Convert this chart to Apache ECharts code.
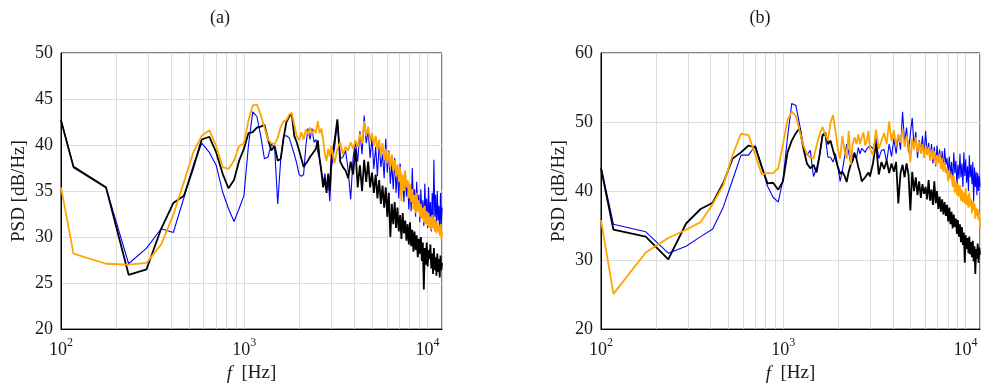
<!DOCTYPE html>
<html>
<head>
<meta charset="utf-8">
<title>PSD</title>
<script src="https://cdn.jsdelivr.net/npm/echarts@6/dist/echarts.min.js"></script>
<style>
  html, body { margin: 0; padding: 0; background: #fff; }
  #chart { width: 983px; height: 388px; }
</style>
</head>
<body>
<div id="chart"></div>
<script>
// frequency bins [Hz] (first point = left edge of the axis)
const freq = [100, 117, 176, 234, 293, 352, 410, 469, 527, 586, 645, 703, 762, 820, 879, 938, 996, 1055, 1113, 1172,
  1230, 1289, 1348, 1406, 1465, 1523, 1582, 1641, 1699, 1758, 1816, 1875, 1934, 1992, 2051, 2109, 2168, 2227, 2285, 2344,
  2402, 2461, 2520, 2578, 2637, 2695, 2754, 2813, 2871, 2930, 2988, 3105, 3223, 3340, 3457,
  3574, 3691, 3809, 3926, 4043, 4160, 4277, 4395, 4512, 4629, 4746, 4863, 4980, 5098, 5215, 5332, 5449, 5566, 5684, 5801,
  5918, 6035, 6152, 6270, 6387, 6504, 6621, 6738, 6856, 6973, 7090, 7207, 7324, 7441, 7559, 7676, 7793, 7910, 8027, 8145,
  8262, 8379, 8496, 8613, 8731, 8848, 8965, 9082, 9199, 9316, 9434, 9551, 9668, 9785, 9902, 10020, 10137, 10254, 10371, 10488,
  10605, 10723, 10840, 10957, 11074, 11191, 11309, 11426, 11543, 11660, 11777, 11895, 12012]

// panel (a)
const psdA_black = [42.7, 37.6, 35.4, 25.9, 26.5, 30.9, 33.7, 34.5, 37.5, 40.6, 40.9, 39.2, 36.9, 35.3, 36.2, 38.3, 39.6, 41.3, 41.4, 41.9,
  42.0, 42.2, 40.6, 39.4, 39.9, 38.3, 38.5, 40.8, 42.5, 43.1, 43.4, 41.0, 40.3, 39.4, 38.5, 37.6, 38.0, 38.3, 38.7, 39.0,
  38.9, 39.6, 40.5, 38.5, 37.1, 35.4, 36.4, 34.8, 36.9, 35.0, 38.5, 40.3, 42.8, 38.2, 37.6,
  37.2, 36.4, 38.2, 36.8, 39.6, 35.4, 37.8, 35.0, 38.4, 36.0, 38.2, 35.4, 37.0, 34.8, 36.8, 34.2, 36.2, 33.6, 35.6, 33.2,
  35.4, 32.2, 34.8, 30.0, 33.6, 31.4, 33.8, 31.0, 33.2, 30.6, 32.4, 29.8, 32.6, 30.4, 31.8, 29.6, 31.4, 29.2, 31.6, 29.0,
  30.8, 28.4, 30.6, 28.6, 30.2, 27.8, 29.8, 28.2, 30.0, 27.4, 29.4, 24.3, 28.8, 27.0, 29.4, 26.8, 28.6, 27.6, 29.2, 26.6,
  28.2, 26.0, 28.8, 26.4, 27.8, 25.8, 28.2, 26.2, 27.6, 25.6, 28.0, 26.4, 27.2]
const psdA_blue = [42.7, 37.7, 35.4, 27.1, 28.8, 30.9, 30.5, 34.3, 37.8, 40.2, 39.2, 37.8, 34.9, 33.1, 31.7, 33.1, 34.5, 40.0, 43.6, 43.1,
  41.0, 38.5, 38.7, 40.1, 39.7, 33.6, 38.5, 41.0, 41.0, 40.8, 39.9, 39.0, 38.0, 36.8, 36.6, 36.8, 39.9, 41.8, 40.6, 41.8,
  40.3, 40.6, 39.2, 38.5, 37.1, 35.9, 36.9, 35.4, 36.2, 33.9, 37.5, 39.6, 42.6, 38.5, 38.7,
  39.4, 37.2, 34.1, 38.6, 40.4, 38.2, 41.5, 39.0, 43.2, 40.2, 41.6, 38.6, 40.8, 37.4, 39.8, 36.6, 40.2, 37.6, 39.0, 36.4,
  40.7, 37.0, 39.4, 35.8, 38.0, 35.2, 38.6, 34.8, 37.4, 34.2, 38.0, 35.0, 36.6, 33.8, 37.2, 34.4, 36.0, 33.0, 35.6, 32.8,
  37.5, 33.6, 35.2, 32.2, 36.0, 33.0, 34.6, 31.6, 35.2, 32.4, 34.0, 31.2, 35.8, 32.6, 34.2, 31.0, 35.4, 32.0, 33.8, 30.6,
  34.8, 31.6, 38.4, 32.2, 34.6, 30.8, 35.0, 31.8, 33.4, 30.2, 34.8, 31.4, 33.2]
const psdA_orange = [35.4, 28.2, 27.1, 27.0, 27.2, 29.2, 32.4, 36.0, 39.2, 41.0, 41.6, 39.9, 37.6, 37.4, 38.3, 39.9, 40.2, 42.7, 44.3, 44.4,
  43.3, 41.9, 40.6, 40.2, 40.1, 40.8, 42.0, 42.6, 42.7, 43.3, 43.5, 42.2, 41.0, 40.5, 41.4, 40.6, 41.7, 41.2, 41.9, 41.2,
  41.7, 41.3, 42.6, 41.3, 41.8, 40.6, 39.0, 38.3, 39.6, 38.7, 39.9, 38.0, 39.6, 40.3, 39.0,
  39.8, 39.4, 40.3, 39.6, 40.5, 39.8, 41.2, 40.2, 42.6, 41.0, 42.0, 40.4, 41.3, 39.9, 41.0, 39.5, 40.6, 38.8, 40.2, 38.4,
  39.6, 38.0, 39.2, 37.6, 39.0, 37.2, 38.4, 36.6, 37.9, 36.0, 37.6, 33.9, 36.8, 35.0, 37.2, 35.4, 36.2, 34.2, 35.8, 33.8,
  35.2, 33.0, 34.6, 32.6, 34.8, 32.8, 34.0, 32.2, 33.6, 32.0, 33.2, 31.6, 33.4, 31.4, 32.8, 31.2, 32.6, 31.0, 32.2, 30.8,
  32.4, 31.0, 32.0, 30.6, 31.8, 30.4, 31.6, 30.6, 31.2, 30.2, 31.4, 29.8, 30.6]

// panel (b)
const psdB_black = [43.3, 34.4, 33.4, 30.1, 35.3, 37.4, 38.3, 41.2, 44.7, 45.6, 46.6, 46.3, 43.5, 41.1, 41.2, 40.2, 41.4, 45.6, 47.3, 48.4,
  49.1, 46.2, 44.0, 43.3, 43.8, 42.7, 45.2, 48.0, 48.5, 46.8, 47.3, 45.9, 44.7, 43.5, 42.5, 42.8, 42.2, 41.3, 42.8, 43.8,
  44.4, 45.4, 44.7, 43.5, 42.6, 41.4, 41.6, 42.0, 42.2, 42.7, 42.1, 44.0, 47.0, 42.4, 44.2,
  43.2, 44.4, 42.6, 44.0, 42.8, 44.2, 38.2, 42.6, 43.8, 42.0, 44.0, 42.4, 37.2, 42.8, 40.0, 42.0, 39.4, 41.4, 39.0, 41.0,
  39.6, 40.6, 38.8, 41.6, 38.6, 40.2, 38.0, 41.4, 38.2, 40.0, 37.4, 39.2, 37.0, 38.8, 36.6, 38.4, 36.4, 38.0, 35.6, 37.6,
  35.2, 37.0, 34.6, 36.6, 34.8, 36.0, 33.8, 35.8, 33.4, 35.2, 32.6, 34.8, 32.2, 34.0, 29.6, 33.6, 31.6, 33.2, 31.0, 33.4,
  30.8, 32.6, 30.4, 32.8, 29.8, 32.0, 28.0, 31.6, 30.2, 32.4, 29.6, 31.8, 30.8]
const psdB_blue = [43.5, 35.2, 34.1, 31.0, 32.0, 33.4, 34.5, 37.7, 41.6, 45.2, 45.2, 46.6, 43.5, 40.7, 39.1, 38.4, 41.6, 47.8, 52.7, 52.4,
  49.6, 46.6, 45.2, 45.9, 42.1, 43.3, 45.2, 48.2, 48.0, 44.9, 44.9, 44.2, 45.4, 43.5, 41.4, 43.0, 44.9, 46.8, 45.6, 44.0,
  45.2, 45.6, 44.7, 46.3, 45.4, 46.2, 45.9, 45.6, 46.1, 45.9, 46.6, 46.1, 47.7, 44.7, 45.9,
  46.0, 44.2, 46.8, 45.0, 47.6, 45.4, 48.2, 46.0, 51.5, 47.0, 49.2, 45.6, 48.4, 50.6, 46.4, 48.6, 44.8, 47.4, 45.6, 48.0,
  45.0, 48.7, 45.4, 47.0, 44.6, 46.8, 44.0, 46.4, 43.6, 46.6, 44.2, 46.0, 43.4, 45.8, 43.0, 46.2, 43.8, 44.8, 42.4, 45.0,
  42.2, 44.2, 41.0, 45.6, 42.6, 44.4, 40.8, 43.8, 41.8, 45.4, 42.0, 44.0, 40.6, 45.6, 42.2, 44.6, 41.2, 43.6, 40.0, 45.2,
  42.0, 43.8, 41.0, 44.2, 38.4, 43.4, 40.6, 42.8, 39.4, 42.6, 40.0, 42.2, 40.6]
const psdB_orange = [35.8, 25.1, 31.1, 33.2, 34.4, 35.5, 38.1, 40.9, 45.2, 48.3, 48.1, 45.2, 42.4, 42.6, 42.6, 43.3, 46.8, 50.3, 51.5, 50.9,
  48.7, 46.6, 45.4, 44.8, 44.7, 46.6, 48.2, 49.3, 48.2, 47.3, 49.9, 51.0, 48.7, 46.1, 44.7, 48.0, 45.9, 44.7, 48.7, 43.8,
  46.8, 47.8, 46.8, 48.2, 46.8, 47.8, 48.5, 46.6, 47.3, 48.7, 46.1, 45.2, 48.9, 46.1, 47.3,
  48.4, 46.8, 50.1, 47.2, 48.8, 46.6, 48.2, 47.0, 49.0, 46.4, 48.0, 46.8, 44.2, 47.6, 46.0, 47.8, 45.6, 47.2, 45.4, 46.8,
  44.8, 46.6, 45.2, 46.4, 44.4, 46.0, 44.6, 45.8, 43.8, 45.2, 44.0, 45.4, 43.2, 44.8, 42.8, 44.2, 42.6, 43.4, 41.4, 43.0,
  41.8, 42.4, 40.6, 42.2, 39.8, 41.4, 39.4, 41.0, 39.2, 40.8, 38.6, 40.2, 38.4, 39.8, 38.2, 40.4, 38.0, 39.4, 37.6, 39.8,
  37.8, 38.8, 36.8, 38.6, 37.2, 38.2, 36.0, 37.6, 36.4, 37.4, 35.8, 36.8, 34.6]

// minor grid lines of the log axis
const minorFreq = [200, 300, 400, 500, 600, 700, 800, 900, 2000, 3000, 4000, 5000, 6000, 7000, 8000, 9000]

const serif = '"Liberation Serif", "Times New Roman", serif'
const gridColor = '#dcdcdc'
const textColor = '#1a1a1a'

const chart = echarts.init(document.getElementById('chart'), null, {renderer: 'canvas'})

const pairs = (ys) => freq.map((f, i) => [f, ys[i]])

const xAxisFor = (gridIndex) => ({
  type: 'log',
  logBase: 10,
  gridIndex,
  min: 100,
  max: 12000,
  name: '{i|f}  [Hz]',
  nameLocation: 'middle',
  nameGap: 32,
  nameTextStyle: {
    fontFamily: serif, fontSize: 19, color: textColor,
    rich: {i: {fontFamily: serif, fontSize: 19, fontStyle: 'italic', color: textColor}}
  },
  axisLine: {show: true, onZero: false, lineStyle: {color: '#000', width: 1}},
  axisTick: {show: false},
  axisLabel: {
    margin: 8,
    formatter: (v) => {
      const e = Math.round(Math.log10(v))
      if (Math.abs(v - Math.pow(10, e)) > 1e-6 * v) return ''
      return '{b|10}{s|' + e + '}'
    },
    rich: {
      b: {fontFamily: serif, fontSize: 18, color: textColor, verticalAlign: 'bottom', lineHeight: 22},
      s: {fontFamily: serif, fontSize: 12, color: textColor, verticalAlign: 'top', lineHeight: 22, padding: [0, 0, 8, 0]}
    }
  },
  splitLine: {show: true, lineStyle: {color: gridColor, width: 1}}
})

const yAxisFor = (gridIndex, max, interval) => ({
  type: 'value',
  gridIndex,
  min: 20,
  max,
  interval,
  name: 'PSD [dB/Hz]',
  nameLocation: 'middle',
  nameRotate: 90,
  nameGap: 32,
  nameTextStyle: {fontFamily: serif, fontSize: 19, color: textColor},
  axisLine: {show: true, onZero: false, lineStyle: {color: '#000', width: 1}},
  axisTick: {show: false},
  axisLabel: {margin: 8, fontFamily: serif, fontSize: 18, color: textColor},
  splitLine: {show: true, lineStyle: {color: gridColor, width: 1}}
})

const lineSeries = (gridIndex, ys, color, width, z) => ({
  type: 'line',
  xAxisIndex: gridIndex,
  yAxisIndex: gridIndex,
  data: pairs(ys),
  showSymbol: false,
  symbol: 'none',
  silent: true,
  z,
  lineStyle: {color, width},
  itemStyle: {color}
})

const minorGrid = (gridIndex) => ({
  type: 'line',
  xAxisIndex: gridIndex,
  yAxisIndex: gridIndex,
  data: [],
  silent: true,
  markLine: {
    silent: true,
    z: 1,
    animation: false,
    symbol: ['none', 'none'],
    label: {show: false},
    lineStyle: {color: gridColor, width: 1, type: 'solid'},
    emphasis: {disabled: true},
    data: minorFreq.map(v => ({xAxis: v}))
  }
})

chart.setOption({
  animation: false,
  backgroundColor: '#fff',
  grid: [
    {left: 61, top: 53, width: 381, height: 284, show: true, borderColor: '#000', borderWidth: 1, backgroundColor: 'transparent'},
    {left: 601, top: 53, width: 381, height: 284, show: true, borderColor: '#000', borderWidth: 1, backgroundColor: 'transparent'}
  ],
  graphic: [
    {type: 'text', x: 220, y: 18, style: {text: '(a)', fontFamily: serif, fontSize: 18, fill: textColor, textAlign: 'center', textVerticalAlign: 'middle'}},
    {type: 'text', x: 760, y: 18, style: {text: '(b)', fontFamily: serif, fontSize: 18, fill: textColor, textAlign: 'center', textVerticalAlign: 'middle'}}
  ],
  xAxis: [xAxisFor(0), xAxisFor(1)],
  yAxis: [yAxisFor(0, 50, 5), yAxisFor(1, 60, 10)],
  series: [
    minorGrid(0),
    lineSeries(0, psdA_blue, '#0000ff', 1.1, 2),
    lineSeries(0, psdA_black, '#000000', 1.8, 3),
    lineSeries(0, psdA_orange, '#ffa500', 1.8, 4),
    minorGrid(1),
    lineSeries(1, psdB_blue, '#0000ff', 1.1, 2),
    lineSeries(1, psdB_black, '#000000', 1.8, 3),
    lineSeries(1, psdB_orange, '#ffa500', 1.8, 4)
  ]
})
</script>
</body>
</html>
